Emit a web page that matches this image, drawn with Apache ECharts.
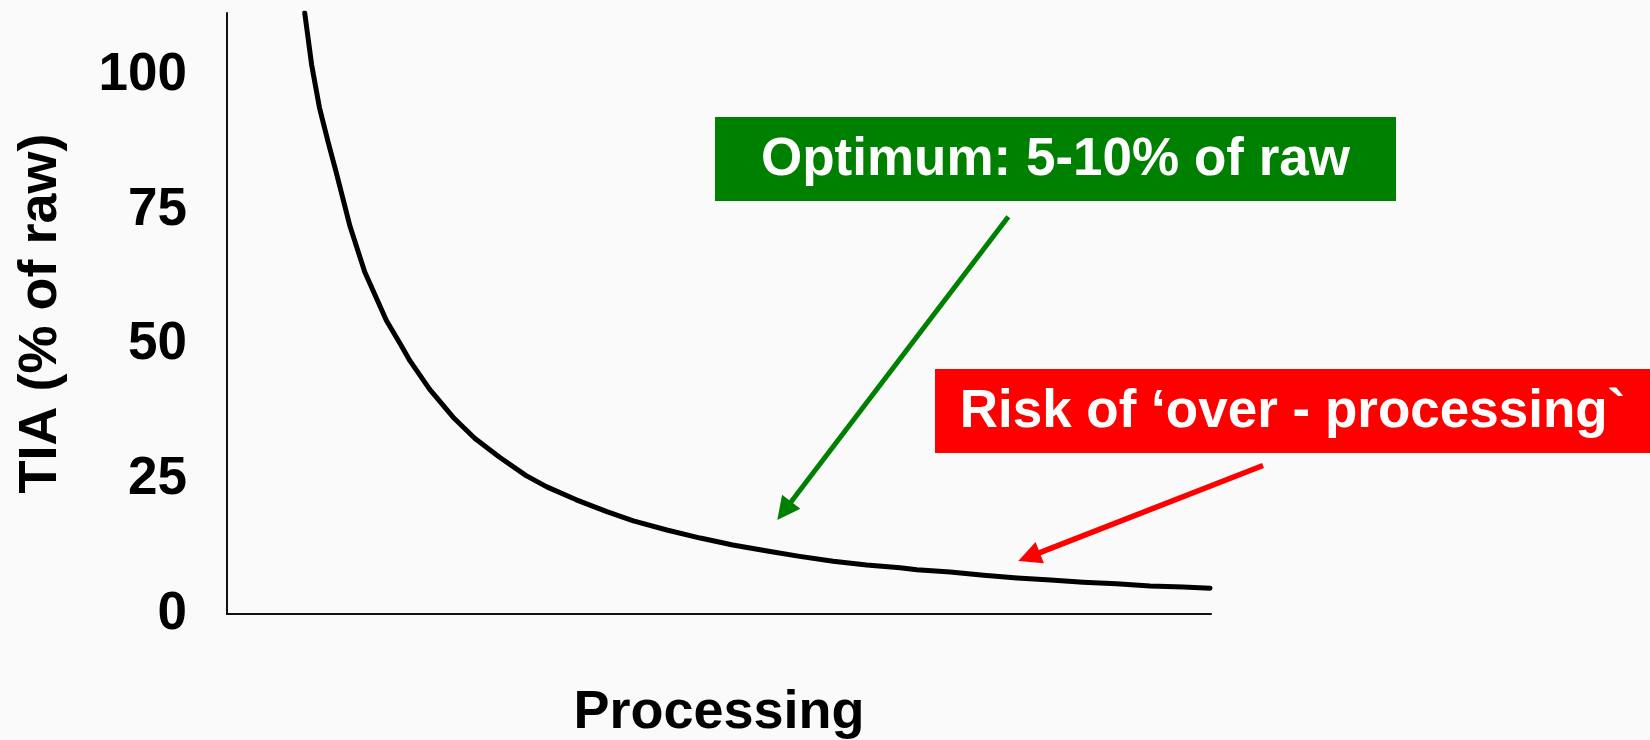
<!DOCTYPE html>
<html>
<head>
<meta charset="utf-8">
<script src="https://cdn.jsdelivr.net/npm/echarts@6/dist/echarts.min.js"></script>
<style>
  html, body { margin: 0; padding: 0; background: #fafafa; }
  #chart { width: 1650px; height: 740px; }
</style>
</head>
<body>
<div id="chart"></div>
<script>
// ---- data ----
const processing = [7.90, 8.60, 9.40, 10.30, 11.10, 11.80, 12.50, 14.00, 16.20, 17.60, 18.60, 20.60,
  23.00, 25.20, 27.70, 30.40, 32.50, 35.50, 38.60, 41.30, 44.70, 48.10, 51.40, 55.20, 58.20,
  61.60, 65.00, 68.40, 70.10, 73.50, 76.90, 80.30, 83.70, 87.00, 90.40, 93.80, 97.20, 99.90];
const tia = [111.6, 102.0, 94.0, 87.5, 82.0, 77.0, 72.0, 63.5, 54.5, 50.2, 47.0, 41.7,
  36.5, 32.6, 29.1, 25.7, 23.6, 21.2, 19.0, 17.3, 15.6, 14.1, 12.8, 11.6, 10.7,
  9.8, 9.1, 8.6, 8.2, 7.8, 7.2, 6.7, 6.3, 5.9, 5.6, 5.2, 5.0, 4.8];
const yTickLabels = [0, 25, 50, 75, 100];
const yAxisTitle = 'TIA (% of raw)';
const xAxisTitle = 'Processing';
const optimumText = 'Optimum: 5-10% of raw';
const riskText = 'Risk of \u2018over - processing`';

// ---- styling / layout ----
const FONT = "'Liberation Sans', Arial, Helvetica, sans-serif";
const chart = echarts.init(document.getElementById('chart'), null, { renderer: 'canvas' });

function arrow(start, tip, color, lw, headLen, headW) {
  const dx = tip[0] - start[0], dy = tip[1] - start[1];
  const len = Math.sqrt(dx * dx + dy * dy);
  const ux = dx / len, uy = dy / len;
  const nx = -uy, ny = ux;
  const base = [tip[0] - ux * headLen, tip[1] - uy * headLen];
  return [
    { type: 'polyline', shape: { points: [start, [base[0] + ux * 2, base[1] + uy * 2]] },
      style: { stroke: color, lineWidth: lw, lineCap: 'butt', fill: null }, z: 10 },
    { type: 'polygon', shape: { points: [tip, [base[0] + nx * headW / 2, base[1] + ny * headW / 2],
      [base[0] - nx * headW / 2, base[1] - ny * headW / 2]] },
      style: { fill: color }, z: 10 }
  ];
}

function labelBox(x, y, w, h, fill, text) {
  return [
    { type: 'rect', shape: { x: x, y: y, width: w, height: h }, style: { fill: fill }, z: 9 },
    { type: 'text', x: x + w / 2, y: y + h / 2 + 1,
      style: { text: text, fill: '#ffffff', font: 'bold 53px ' + FONT, align: 'center', verticalAlign: 'middle' }, z: 11 }
  ];
}

const option = {
  backgroundColor: '#fafafa',
  animation: false,
  grid: { left: 227, right: 439, top: 13, bottom: 126, containLabel: false, outerBoundsMode: 'none' },
  xAxis: {
    type: 'value', min: 0, max: 100,
    name: xAxisTitle, nameLocation: 'middle', nameGap: 72,
    nameTextStyle: { fontFamily: FONT, fontWeight: 'bold', fontSize: 54, color: '#000' },
    axisLine: { show: true, onZero: false, lineStyle: { color: '#111', width: 2 } },
    axisTick: { show: false }, axisLabel: { show: false }, splitLine: { show: false }
  },
  yAxis: {
    type: 'value', min: 0, max: 111.6, interval: 25,
    name: yAxisTitle, nameLocation: 'middle', nameGap: 159, nameRotate: 90,
    nameTextStyle: { fontFamily: FONT, fontWeight: 'bold', fontSize: 54, color: '#000' },
    axisLine: { show: true, onZero: false, lineStyle: { color: '#111', width: 2 } },
    axisTick: { show: false }, splitLine: { show: false },
    axisLabel: {
      show: true, margin: 40, showMaxLabel: false,
      fontFamily: FONT, fontWeight: 'bold', fontSize: 53, color: '#000',
      padding: [0, 0, 12, 0],
      formatter: function (v) { return yTickLabels.indexOf(v) >= 0 ? String(v) : ''; }
    }
  },
  series: [{
    type: 'line',
    data: processing.map((x, i) => [x, tia[i]]),
    showSymbol: false, symbol: 'none',
    smooth: false,
    clip: true,
    lineStyle: { color: '#000', width: 5, cap: 'round', join: 'round' }
  }],
  graphic: [].concat(
    labelBox(715, 117, 681, 84, '#008000', optimumText),
    labelBox(935, 369, 715, 84, '#ff0000', riskText),
    arrow([1008.3, 216.7], [777.3, 520], '#008000', 5, 23, 23),
    arrow([1263, 465.5], [1018.3, 561], '#ff0000', 5.5, 23, 23)
  )
};
chart.setOption(option);
</script>
</body>
</html>
